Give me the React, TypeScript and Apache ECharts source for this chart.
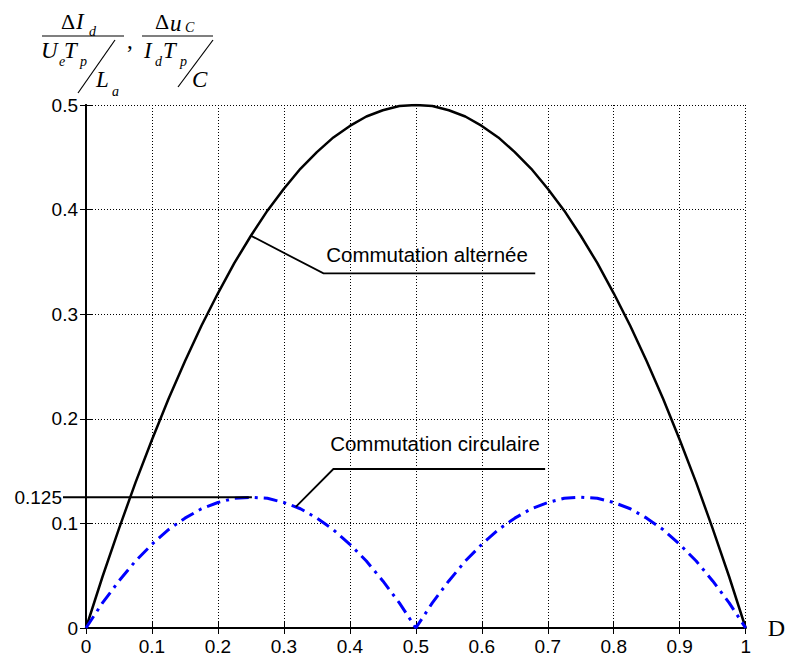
import React, { useEffect, useRef } from "react";
import * as echarts from "echarts";

const dVals = [
  0, 0.025, 0.05, 0.075, 0.1, 0.125, 0.15, 0.175, 0.2, 0.225, 0.25, 0.275, 0.3, 0.325, 0.35, 0.375, 0.4, 0.425, 0.45, 0.475, 0.5,
  0.525, 0.55, 0.575, 0.6, 0.625, 0.65, 0.675, 0.7, 0.725, 0.75, 0.775, 0.8, 0.825, 0.85, 0.875, 0.9, 0.925, 0.95, 0.975, 1,
];
const alternee = [
  0, 0.049, 0.095, 0.139, 0.18, 0.219, 0.255, 0.289, 0.32, 0.349, 0.375, 0.399, 0.42, 0.439, 0.455, 0.469, 0.48, 0.489, 0.495, 0.499, 0.5,
  0.499, 0.495, 0.489, 0.48, 0.469, 0.455, 0.439, 0.42, 0.399, 0.375, 0.349, 0.32, 0.289, 0.255, 0.219, 0.18, 0.139, 0.095, 0.049, 0,
];
const circulaire = [
  0, 0.024, 0.045, 0.064, 0.08, 0.094, 0.105, 0.114, 0.12, 0.124, 0.125, 0.124, 0.12, 0.114, 0.105, 0.094, 0.08, 0.064, 0.045, 0.024, 0,
  0.024, 0.045, 0.064, 0.08, 0.094, 0.105, 0.114, 0.12, 0.124, 0.125, 0.124, 0.12, 0.114, 0.105, 0.094, 0.08, 0.064, 0.045, 0.024, 0,
];
const xTicks = { min: 0, max: 1, interval: 0.1 };
const yTicks = { min: 0, max: 0.5, interval: 0.1 };
const markValue = 0.125;
const markLabel = "0.125";
const labelAlt = "Commutation alternée";
const labelCirc = "Commutation circulaire";
const annoAlt = [[0.25, 0.375], [0.36, 0.339], [0.681, 0.339]];
const annoAltText = [0.517, 0.357];
const annoCirc = [[0.318, 0.1157], [0.375, 0.152], [0.696, 0.152]];
const annoCircText = [0.529, 0.176];
const markLineEnd = 0.2515;

const SANS = "'Liberation Sans', Arial, sans-serif";
const SERIF = "'Liberation Serif', 'Times New Roman', serif";

export default function App() {
  const ref = useRef<HTMLDivElement>(null);
  useEffect(() => {
    if (!ref.current) return;
    const chart = echarts.init(ref.current, null, { renderer: "svg" });
    const axisLine = { show: true, lineStyle: { color: "#000", width: 2 } };
    const tick = { show: true, inside: true, length: 6, lineStyle: { color: "#000", width: 1 } };
    const split = { show: true, lineStyle: { color: "#000", width: 1, type: [1, 2] as any } };
    chart.setOption({
      animation: false,
      backgroundColor: "#fff",
      grid: { left: 86, right: 38, top: 105, bottom: 29, containLabel: false },
      xAxis: [
        {
          type: "value", ...xTicks, position: "bottom",
          axisLine, axisTick: tick, splitLine: split,
          axisLabel: { color: "#000", fontFamily: SANS, fontSize: 19, margin: 9 },
          name: "D", nameLocation: "end", nameGap: 22,
          nameTextStyle: { color: "#000", fontFamily: SERIF, fontSize: 24, padding: [0, 0, 8, 0], verticalAlign: "middle" },
        },
        {
          type: "value", ...xTicks, position: "top",
          axisLine, axisTick: tick, splitLine: { show: false }, axisLabel: { show: false },
        },
      ],
      yAxis: [
        {
          type: "value", ...yTicks, position: "left",
          axisLine, axisTick: tick, splitLine: split,
          axisLabel: { color: "#000", fontFamily: SANS, fontSize: 19, margin: 8 },
        },
        {
          type: "value", ...yTicks, position: "right",
          axisLine, axisTick: tick, splitLine: { show: false }, axisLabel: { show: false },
        },
      ],
      series: [
        {
          type: "line", name: labelAlt, xAxisIndex: 0, yAxisIndex: 0,
          data: dVals.map((d, i) => [d, alternee[i]]),
          showSymbol: false, symbol: "none",
          lineStyle: { color: "#000", width: 2.5 },
          z: 3,
        },
        {
          type: "line", name: labelCirc, xAxisIndex: 0, yAxisIndex: 0,
          data: dVals.map((d, i) => [d, circulaire[i]]),
          showSymbol: false, symbol: "none",
          lineStyle: { color: "#0000ff", width: 3, type: [14, 6, 3, 6] as any },
          z: 4,
        },
      ],
    });

    const px = (p: number[]) => chart.convertToPixel({ xAxisIndex: 0, yAxisIndex: 0 }, p) as number[];
    const poly = (pts: number[][]) => ({
      type: "polyline", silent: true, z: 10,
      shape: { points: pts.map(px) },
      style: { stroke: "#000", lineWidth: 1.8, fill: null },
    });
    const markY = px([0, markValue])[1];
    const markX1 = px([markLineEnd, markValue])[0];
    const tAlt = px(annoAltText);
    const tCirc = px(annoCircText);

    const it = (text: string, x: number, y: number, size: number, italic = true) => ({
      type: "text", x, y, silent: true, z: 20,
      style: {
        text, x: 0, y: 0, fill: "#000", fontFamily: SERIF, fontSize: size,
        fontStyle: italic ? "italic" : "normal", align: "left", verticalAlign: "middle",
      },
    });
    const ln = (x1: number, y1: number, x2: number, y2: number) => ({
      type: "line", silent: true, z: 20,
      shape: { x1, y1, x2, y2 }, style: { stroke: "#000", lineWidth: 1.2 },
    });

    chart.setOption({
      graphic: [
        poly(annoAlt),
        poly(annoCirc),
        {
          type: "line", silent: true, z: 10,
          shape: { x1: 63, y1: markY, x2: markX1, y2: markY },
          style: { stroke: "#000", lineWidth: 1.8 },
        },
        {
          type: "text", silent: true, z: 20, x: 62, y: markY,
          style: { text: markLabel, fill: "#000", fontFamily: SANS, fontSize: 19, align: "right", verticalAlign: "middle" },
        },
        {
          type: "text", silent: true, z: 20, x: tAlt[0], y: tAlt[1],
          style: { text: labelAlt, fill: "#000", fontFamily: SANS, fontSize: 20.5, align: "center", verticalAlign: "middle" },
        },
        {
          type: "text", silent: true, z: 20, x: tCirc[0], y: tCirc[1],
          style: { text: labelCirc, fill: "#000", fontFamily: SANS, fontSize: 20.5, align: "center", verticalAlign: "middle" },
        },
        // y-axis title: ΔI_d / (U_e T_p / L_a), Δu_C / (I_d T_p / C)
        it("Δ", 61, 21, 22, false),
        it("I", 76, 21, 23),
        it("d", 89, 31, 14),
        ln(42, 36, 124, 36),
        it("U", 41, 50, 23),
        it("e", 59, 61, 14),
        it("T", 64, 50, 23),
        it("p", 80, 61, 14),
        ln(115, 40, 78, 93),
        it("L", 96, 79, 23),
        it("a", 112, 91, 14),
        it(",", 127, 40, 23, false),
        it("Δ", 155, 21, 22, false),
        it("u", 170, 23, 23),
        it("C", 185, 27, 14),
        ln(142, 36, 213, 36),
        it("I", 144, 50, 23),
        it("d", 155, 61, 14),
        it("T", 163, 50, 23),
        it("p", 180, 61, 14),
        ln(213, 40, 178, 87),
        it("C", 192, 79, 23),
      ],
    });
    return () => chart.dispose();
  }, []);
  return (
    <div
      ref={ref}
      style={{ position: "fixed", left: 0, top: 0, width: 788, height: 657, background: "#fff" }}
    />
  );
}
